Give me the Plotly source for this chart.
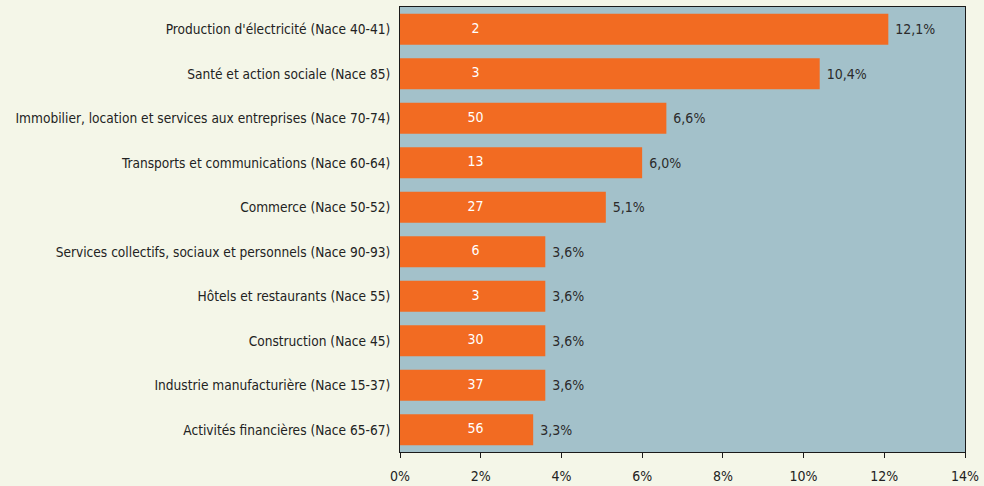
import plotly.graph_objects as go

sectors = [
    "Production d'électricité (Nace 40-41)",
    "Santé et action sociale (Nace 85)",
    "Immobilier, location et services aux entreprises (Nace 70-74)",
    "Transports et communications (Nace 60-64)",
    "Commerce (Nace 50-52)",
    "Services collectifs, sociaux et personnels (Nace 90-93)",
    "Hôtels et restaurants (Nace 55)",
    "Construction (Nace 45)",
    "Industrie manufacturière (Nace 15-37)",
    "Activités financières (Nace 65-67)",
]
shares = [12.1, 10.4, 6.6, 6.0, 5.1, 3.6, 3.6, 3.6, 3.6, 3.3]
counts = [2, 3, 50, 13, 27, 6, 3, 30, 37, 56]
tick_vals = [0, 2, 4, 6, 8, 10, 12, 14]
tick_text = [f"{v}%" for v in tick_vals]

FONT = "Liberation Sans Narrow, Arial Narrow, DejaVu Sans Condensed, sans-serif"
COUNT_X = 1.87  # fixed position of the count labels inside the bars

fig = go.Figure()
fig.add_trace(go.Bar(
    x=shares,
    y=sectors,
    orientation="h",
    marker=dict(color="#f26b22", line=dict(width=0)),
    width=0.7,
    text=[(f"{v:.1f}%").replace(".", ",") for v in shares],
    texttemplate=" %{text}",
    textposition="outside",
    textfont=dict(family=FONT, size=14, color="#2b2b2b"),
    cliponaxis=False,
    hoverinfo="skip",
))
fig.add_trace(go.Scatter(
    x=[COUNT_X] * len(counts),
    y=sectors,
    mode="text",
    text=[str(c) for c in counts],
    textfont=dict(family=FONT, size=14, color="#ffffff"),
    hoverinfo="skip",
))

fig.update_layout(
    width=984,
    height=486,
    margin=dict(l=400, r=19, t=7, b=34),
    paper_bgcolor="#f4f6e8",
    plot_bgcolor="#a3c1ca",
    showlegend=False,
    font=dict(family=FONT, size=14, color="#222222"),
)
fig.update_xaxes(
    range=[0, 14],
    tickmode="array",
    tickvals=tick_vals,
    ticktext=tick_text,
    showgrid=False,
    zeroline=False,
    showline=True,
    linecolor="#1a1a1a",
    linewidth=1,
    mirror=True,
    ticks="outside",
    ticklen=5,
    tickcolor="#1a1a1a",
    ticklabelstandoff=6,
    automargin=False,
    tickfont=dict(family=FONT, size=14, color="#222222"),
)
fig.update_yaxes(
    categoryorder="array",
    categoryarray=sectors[::-1],
    showgrid=False,
    showline=True,
    linecolor="#1a1a1a",
    linewidth=1,
    mirror=True,
    ticks="",
    ticklabelstandoff=6,
    automargin=False,
    tickfont=dict(family=FONT, size=13.6, color="#222222"),
)

fig.write_html("out.html")
